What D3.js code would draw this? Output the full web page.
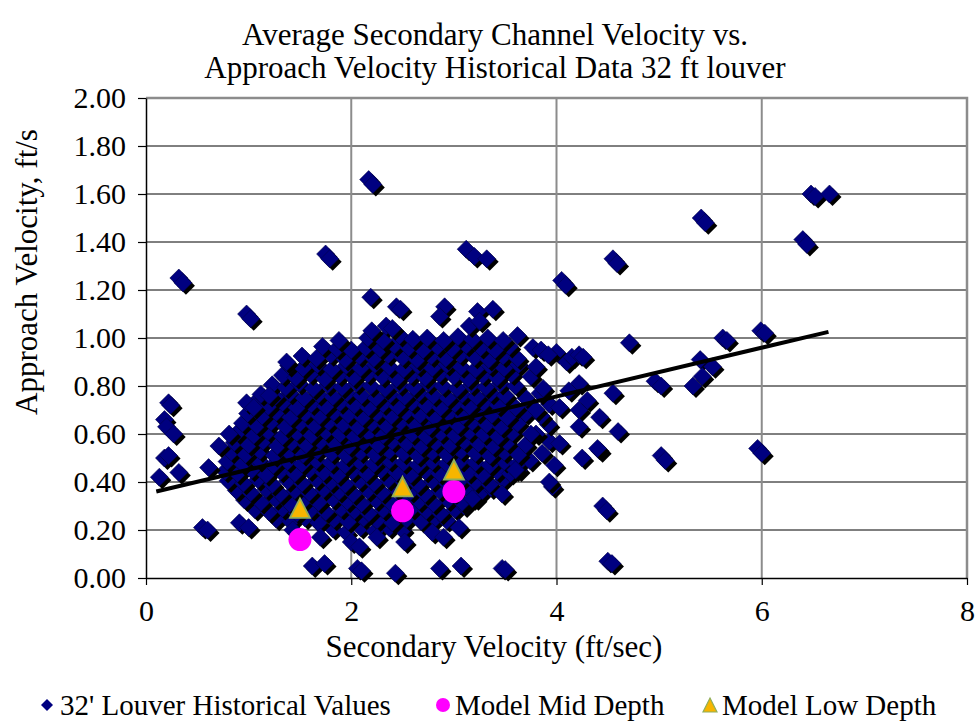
<!DOCTYPE html>
<html><head><meta charset="utf-8">
<script src="https://cdn.jsdelivr.net/npm/d3@7"></script>
<style>body{margin:0;background:#fff} #c text{font-family:"Liberation Serif","Times New Roman","DejaVu Serif",serif;fill:#000}</style>
</head><body><svg id="c" width="977" height="721"></svg>
<script>
const titleLines = ["Average Secondary Channel Velocity vs.", "Approach Velocity Historical Data 32 ft louver"];
const xAxisTitle = "Secondary Velocity (ft/sec)";
const yAxisTitle = "Approach Velocity, ft/s";
const xTicks = [0, 2, 4, 6, 8];
const yTicks = [0, 0.2, 0.4, 0.6, 0.8, 1.0, 1.2, 1.4, 1.6, 1.8, 2.0];
const seriesNames = ["32' Louver Historical Values", "Model Mid Depth", "Model Low Depth"];

// dense cloud of historical values
const historicalCloud = [
[1.82,.205],[1.95,.19],[2.09,.21],[2.23,.195],[2.37,.21],[2.5,.2],
[1.27,.245],[1.41,.235],[1.55,.25],[1.68,.23],[1.83,.245],[1.97,.235],[2.12,.25],[2.25,.24],[2.4,.23],[2.54,.245],[2.68,.235],[2.82,.25],[2.93,.24],
[1.06,.285],[1.2,.275],[1.33,.29],[1.47,.27],[1.61,.285],[1.75,.275],[1.9,.29],[2.03,.28],[2.17,.27],[2.31,.285],[2.45,.275],[2.59,.29],[2.73,.28],[2.87,.27],[3.01,.285],[3.1,.3],
[0.96,.325],[1.12,.315],[1.26,.33],[1.4,.31],[1.54,.325],[1.68,.315],[1.82,.33],[1.96,.32],[2.1,.31],[2.24,.325],[2.38,.315],[2.52,.33],[2.66,.32],[2.8,.31],[2.94,.325],[3.08,.315],[3.21,.33],
[0.88,.365],[1.02,.355],[1.17,.37],[1.31,.35],[1.45,.365],[1.59,.355],[1.73,.37],[1.88,.36],[2.02,.35],[2.16,.365],[2.3,.355],[2.44,.37],[2.58,.36],[2.72,.35],[2.86,.365],[3.0,.355],[3.14,.37],[3.27,.36],[3.36,.375],
[0.8,.405],[0.95,.395],[1.09,.41],[1.23,.39],[1.38,.405],[1.52,.395],[1.66,.41],[1.8,.4],[1.94,.39],[2.08,.405],[2.22,.395],[2.36,.41],[2.51,.4],[2.65,.39],[2.79,.405],[2.93,.395],[3.07,.41],[3.21,.4],[3.35,.39],[3.48,.41],
[0.77,.445],[0.89,.435],[1.03,.45],[1.17,.43],[1.31,.445],[1.45,.435],[1.59,.45],[1.73,.44],[1.87,.43],[2.01,.445],[2.15,.435],[2.29,.45],[2.44,.44],[2.58,.43],[2.72,.445],[2.86,.435],[3.0,.45],[3.14,.44],[3.28,.43],[3.42,.445],[3.55,.435],[3.63,.45],
[0.79,.485],[0.94,.475],[1.1,.49],[1.24,.47],[1.38,.485],[1.52,.475],[1.66,.49],[1.8,.48],[1.94,.47],[2.08,.485],[2.22,.475],[2.37,.49],[2.51,.48],[2.65,.47],[2.79,.485],[2.93,.475],[3.07,.49],[3.21,.48],[3.35,.47],[3.49,.485],[3.62,.475],[3.74,.49],
[0.83,.525],[0.97,.515],[1.11,.53],[1.25,.51],[1.39,.525],[1.53,.515],[1.67,.53],[1.81,.52],[1.95,.51],[2.09,.525],[2.23,.515],[2.37,.53],[2.51,.52],[2.65,.51],[2.79,.525],[2.93,.515],[3.07,.53],[3.21,.52],[3.35,.51],[3.49,.525],[3.63,.515],[3.86,.52],
[0.86,.565],[1.0,.555],[1.14,.57],[1.28,.55],[1.42,.565],[1.56,.555],[1.7,.57],[1.84,.56],[1.98,.55],[2.12,.565],[2.26,.555],[2.4,.57],[2.54,.56],[2.68,.55],[2.82,.565],[2.96,.555],[3.1,.57],[3.24,.56],[3.38,.55],[3.52,.565],[3.7,.555],[3.93,.57],
[0.89,.605],[1.05,.595],[1.19,.61],[1.33,.59],[1.47,.605],[1.61,.595],[1.75,.61],[1.89,.6],[2.03,.59],[2.17,.605],[2.31,.595],[2.45,.61],[2.59,.6],[2.73,.59],[2.87,.605],[3.01,.595],[3.15,.61],[3.29,.6],[3.43,.59],[3.57,.605],[3.8,.6],
[0.94,.645],[1.08,.635],[1.22,.65],[1.36,.63],[1.5,.645],[1.64,.635],[1.78,.65],[1.92,.64],[2.06,.63],[2.2,.645],[2.34,.635],[2.48,.65],[2.62,.64],[2.76,.63],[2.9,.645],[3.04,.635],[3.18,.65],[3.32,.64],[3.46,.63],[3.62,.645],[3.92,.64],
[0.99,.685],[1.13,.675],[1.27,.69],[1.41,.67],[1.55,.685],[1.69,.675],[1.83,.69],[1.97,.68],[2.11,.67],[2.25,.685],[2.39,.675],[2.53,.69],[2.67,.68],[2.81,.67],[2.95,.685],[3.09,.675],[3.23,.69],[3.37,.68],[3.52,.67],[3.7,.685],[3.85,.675],
[1.05,.725],[1.19,.715],[1.33,.73],[1.47,.71],[1.61,.725],[1.75,.715],[1.89,.73],[2.03,.72],[2.17,.71],[2.31,.725],[2.45,.715],[2.59,.73],[2.73,.72],[2.87,.71],[3.01,.725],[3.15,.715],[3.29,.73],[3.43,.72],[3.6,.71],[3.93,.725],
[1.12,.765],[1.26,.755],[1.4,.77],[1.54,.75],[1.68,.765],[1.82,.755],[1.96,.77],[2.1,.76],[2.24,.75],[2.38,.765],[2.52,.755],[2.66,.77],[2.8,.76],[2.94,.75],[3.08,.765],[3.22,.755],[3.36,.77],[3.5,.76],[3.7,.75],[3.84,.77],
[1.23,.805],[1.36,.795],[1.49,.81],[1.63,.79],[1.77,.805],[1.91,.795],[2.05,.81],[2.19,.8],[2.33,.79],[2.47,.805],[2.61,.795],[2.75,.81],[2.89,.8],[3.03,.79],[3.17,.805],[3.31,.795],[3.45,.81],[3.6,.8],[3.87,.79],
[1.33,.845],[1.46,.835],[1.6,.85],[1.74,.83],[1.88,.845],[2.02,.835],[2.16,.85],[2.3,.84],[2.44,.83],[2.58,.845],[2.72,.835],[2.86,.85],[3.0,.84],[3.14,.83],[3.28,.845],[3.42,.835],[3.56,.85],[3.75,.84],
[1.39,.885],[1.53,.875],[1.67,.89],[1.81,.87],[1.95,.885],[2.09,.875],[2.23,.89],[2.37,.88],[2.51,.87],[2.65,.885],[2.79,.875],[2.93,.89],[3.07,.88],[3.21,.87],[3.35,.885],[3.49,.875],[3.63,.89],[3.8,.88],
[1.52,.925],[1.66,.915],[1.8,.93],[1.94,.91],[2.08,.925],[2.22,.915],[2.36,.93],[2.5,.92],[2.64,.91],[2.78,.925],[2.92,.915],[3.06,.93],[3.2,.92],[3.34,.91],[3.48,.925],[3.62,.915],
[1.72,.965],[1.86,.955],[2.0,.95],[2.14,.96],[2.28,.955],[2.42,.97],[2.56,.96],[2.7,.95],[2.84,.965],[2.98,.955],[3.12,.97],[3.26,.96],[3.4,.95],[3.54,.965],
[1.88,.99],[2.16,1.0],[2.31,.99],[2.47,1.01],[2.6,.995],[2.74,1.0],[2.9,.99],[3.04,1.005],[3.18,.995],[3.33,1.0],[3.48,.99]
];

// scattered historical values outside the dense cloud
const historicalSparse = [
[2.17,1.66],[2.21,1.64],[0.32,1.25],[0.36,1.23],[1.75,1.35],[1.79,1.33],[0.98,1.10],[1.02,1.08],
[3.12,1.37],[3.20,1.34],[3.32,1.33],[4.05,1.24],[4.09,1.22],[4.55,1.33],[4.59,1.31],[5.41,1.50],[5.45,1.48],
[6.48,1.60],[6.52,1.59],[6.66,1.60],[6.40,1.41],[6.44,1.39],[5.99,1.03],[6.03,1.02],
[4.71,0.98],[5.62,1.00],[5.66,0.99],[5.40,0.91],[5.52,0.88],[5.42,0.84],[5.33,0.80],[4.96,0.82],[5.02,0.80],
[4.55,0.77],[4.60,0.61],[4.42,0.53],[5.02,0.51],[5.06,0.49],[5.96,0.54],[6.00,0.52],
[4.45,0.30],[4.49,0.28],[4.50,0.07],[4.54,0.06],
[4.00,0.94],[4.10,0.90],[4.15,0.92],[4.22,0.93],[4.26,0.92],[4.22,0.81],[4.03,0.71],[4.22,0.70],[4.42,0.67],
[4.22,0.63],[4.03,0.56],[4.25,0.50],[4.40,0.54],[3.98,0.47],[3.96,0.38],[4.12,0.78],[4.30,0.74],
[2.19,1.17],[2.44,1.13],[2.48,1.12],[2.91,1.13],[2.86,1.09],[3.23,1.11],[3.38,1.12],[2.20,1.03],[2.34,1.05],
[2.40,1.04],[3.62,1.01],[3.77,0.96],[3.15,1.05],[3.25,1.07],[1.37,0.90],[3.85,0.95],[3.92,0.93],
[0.22,0.73],[0.24,0.72],[0.18,0.66],[0.20,0.63],[0.27,0.60],[0.18,0.50],[0.22,0.51],[0.32,0.44],[0.13,0.42],
[0.55,0.21],[0.60,0.20],[0.61,0.46],[0.71,0.55],[0.81,0.60],[0.98,0.73],[1.05,0.71],[1.20,0.76],[0.91,0.23],[1.00,0.21],
[1.62,0.05],[1.74,0.06],[1.70,0.17],[2.06,0.04],[2.10,0.03],[2.00,0.15],[2.08,0.13],[2.43,0.02],[2.52,0.15],
[2.86,0.04],[3.07,0.05],[3.47,0.04],[3.50,0.035],[2.79,0.19],[2.90,0.17],[3.05,0.21],[3.18,0.33],[3.47,0.35],[3.93,0.40],
[2.25,0.17],[1.43,0.20],[3.60,0.45],[3.75,0.60],[3.80,0.70]
];

const modelMid = [[1.5, 0.16], [2.5, 0.28], [3.0, 0.36]];
const modelLow = [[1.5, 0.29], [2.5, 0.38], [3.0, 0.45]];
const trendX = [0.1, 6.65];
const trendSlope = 0.1016, trendIntercept = 0.350;

const historical = historicalCloud.concat(historicalSparse);
const FONT = '"Liberation Serif","Times New Roman","DejaVu Serif",serif';

const m = {l: 146, r: 967, t: 98, b: 578};
const x = d3.scaleLinear().domain([0, 8]).range([m.l, m.r]);
const y = d3.scaleLinear().domain([0, 2]).range([m.b, m.t]);
const svg = d3.select('#c');

// horizontal gridlines (black)
svg.append('g').selectAll('line').data(yTicks.filter(v => v > 0 && v < 2)).join('line')
  .attr('x1', m.l).attr('x2', m.r).attr('y1', d => y(d)).attr('y2', d => y(d))
  .attr('stroke', '#000').attr('stroke-width', 1);
// vertical gridlines (gray)
svg.append('g').selectAll('line').data(xTicks.filter(v => v > 0 && v < 8)).join('line')
  .attr('x1', d => x(d)).attr('x2', d => x(d)).attr('y1', m.t).attr('y2', m.b)
  .attr('stroke', '#8c8c8c').attr('stroke-width', 2);
// plot border top & right (gray)
svg.append('path').attr('d', `M${m.l},${m.t}H${m.r}V${m.b}`).attr('fill', 'none')
  .attr('stroke', '#8c8c8c').attr('stroke-width', 2.5);

// axes
const yAxis = svg.append('g').attr('transform', `translate(${m.l},0)`)
  .call(d3.axisLeft(y).tickValues(yTicks).tickFormat(d3.format('.2f')).tickSize(8).tickSizeOuter(0).tickPadding(12));
const xAxis = svg.append('g').attr('transform', `translate(0,${m.b})`)
  .call(d3.axisBottom(x).tickValues(xTicks).tickFormat(d3.format('d')).tickSize(7).tickSizeOuter(0).tickPadding(15));
[yAxis, xAxis].forEach(g => {
  g.attr('font-family', FONT);
  g.selectAll('path.domain').attr('stroke', '#000').attr('stroke-width', 1.5);
  g.selectAll('.tick line').attr('stroke', '#000').attr('stroke-width', 1.2);
  g.selectAll('.tick text').attr('font-size', 30).style('font-family', FONT).attr('fill', '#000');
});

// historical markers: navy diamond with black shadow
const R = 9;
const diamond = `M0,${-R}L${R},0L0,${R}L${-R},0Z`;
const hg = svg.append('g');
const pts = hg.selectAll('g').data(historical).join('g')
  .attr('transform', d => `translate(${x(d[0])},${y(d[1])})`);
pts.append('path').attr('d', diamond).attr('transform', 'translate(3,3)').attr('fill', '#000');
pts.append('path').attr('d', diamond).attr('fill', '#000080').attr('stroke', '#00004a').attr('stroke-width', 0.6);

// trend line
const line = d3.line().x(d => x(d)).y(d => y(trendSlope * d + trendIntercept));
svg.append('path').attr('d', line(trendX)).attr('fill', 'none').attr('stroke', '#000').attr('stroke-width', 4);

// model mid depth circles
svg.append('g').selectAll('circle').data(modelMid).join('circle')
  .attr('cx', d => x(d[0])).attr('cy', d => y(d[1])).attr('r', 11.5).attr('fill', '#ff00ff');
// model low depth triangles
const tri = 'M0,-10L10,9.5L-10,9.5Z';
svg.append('g').selectAll('path').data(modelLow).join('path')
  .attr('d', tri).attr('transform', d => `translate(${x(d[0])},${y(d[1])})`)
  .attr('fill', '#f7b500').attr('stroke', '#8fae5a').attr('stroke-width', 1.8);

// title
svg.append('text').attr('text-anchor', 'middle').attr('font-size', 31).style('font-family', FONT)
  .selectAll('tspan').data(titleLines).join('tspan')
  .attr('x', 495).attr('y', (d, i) => 45 + i * 33).text(d => d);

// axis titles
svg.append('text').attr('x', 494).attr('y', 657).attr('text-anchor', 'middle').attr('font-size', 31).style('font-family', FONT).text(xAxisTitle);
svg.append('text').attr('transform', 'translate(37,272) rotate(-90)').attr('text-anchor', 'middle').attr('font-size', 31).style('font-family', FONT).text(yAxisTitle);

// legend
const lg = svg.append('g');
const ly = 705;
lg.append('path').attr('d', 'M0,-6L6,0L0,6L-6,0Z').attr('transform', `translate(47,${ly})`).attr('fill', '#000080');
lg.append('text').attr('x', 60).attr('y', ly + 10).attr('font-size', 29).style('font-family', FONT).text(seriesNames[0]);
lg.append('circle').attr('cx', 443).attr('cy', ly).attr('r', 7).attr('fill', '#ff00ff');
lg.append('text').attr('x', 455).attr('y', ly + 10).attr('font-size', 29).style('font-family', FONT).text(seriesNames[1]);
lg.append('path').attr('d', 'M0,-7L7,7L-7,7Z').attr('transform', `translate(710,${ly})`).attr('fill', '#f7b500').attr('stroke', '#8fae5a').attr('stroke-width', 1.2);
lg.append('text').attr('x', 722).attr('y', ly + 10).attr('font-size', 29).style('font-family', FONT).text(seriesNames[2]);
</script></body></html>
